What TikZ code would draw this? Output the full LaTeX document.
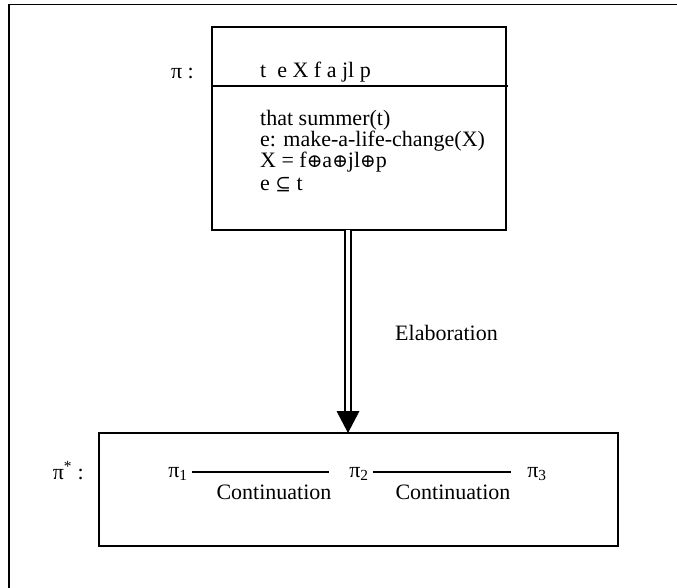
\documentclass[tikz,border=0pt]{standalone}
\usepackage{fontspec}
\setmainfont{Liberation Serif}
\newfontfamily\symf[Scale=0.85]{DejaVu Serif}
\usetikzlibrary{calc}
\begin{document}
\begin{tikzpicture}[x=1pt,y=-1pt,
  txt/.style={font=\fontsize{22}{24}\selectfont, inner sep=0pt},
  row/.style={txt, anchor=base west, text height=14pt, text depth=4.5pt},
  boxline/.style={line width=1.2pt},
  frameline/.style={line width=1.6pt}]
\useasboundingbox (0,0) rectangle (677,588);
% outer frame (cropped)
\draw[frameline] (9,588) -- (9,4.5) -- (677,4.5);
% top DRS box
\node[draw, boxline, minimum width=294pt, minimum height=203pt, inner sep=0pt] (pi) at (359,128.5) {};
\draw[boxline] (pi.west |- 0,86) -- (508,86);
\node[txt, anchor=base east] (pilab) at (194,79) {π :};
\node[txt, anchor=base west] (univ) at (260,78) {t\ \ e X f a jl p};
\node[row] (c1) at (260,126) {that summer(t)};
\node[row] (c2) at (260,146.5) {e: make-a-life-change(X)};
\node[row] (c3) at (260,168) {X = f{\symf ⊕}a{\symf ⊕}jl{\symf ⊕}p};
\node[row] (c4) at (260,190) {e {\symf ⊆} t};
% elaboration arrow
\coordinate (a1) at (348,230);
\coordinate (a2) at (348,433);
\draw[double, double distance=3.4pt, line width=2.1pt] (a1) -- ($(a2)+(0,-20)$);
\fill (a2) -- ++(-11.5,-22) -- ++(23,0) -- cycle;
\node[txt, anchor=base west] (elab) at (395,340) {Elaboration};
% lower box
\node[draw, boxline, minimum width=519pt, minimum height=113pt, inner sep=0pt] (pistar) at (358.5,489.5) {};
\node[txt, anchor=base east] (pslab) at (84,479) {π\textsuperscript{*} :};
\node[txt] (p1) at (178,474) {π\textsubscript{1}};
\node[txt] (p2) at (359,474) {π\textsubscript{2}};
\node[txt] (p3) at (537,474) {π\textsubscript{3}};
\draw[line width=1.3pt] (192,472) coordinate (l1s) -- (329,472) coordinate (l1e);
\draw[line width=1.3pt] (373,472) coordinate (l2s) -- (511,472) coordinate (l2e);
\node[txt, anchor=base] (cont1) at (274,499) {Continuation};
\node[txt, anchor=base] (cont2) at (453,499) {Continuation};
\end{tikzpicture}
\end{document}
